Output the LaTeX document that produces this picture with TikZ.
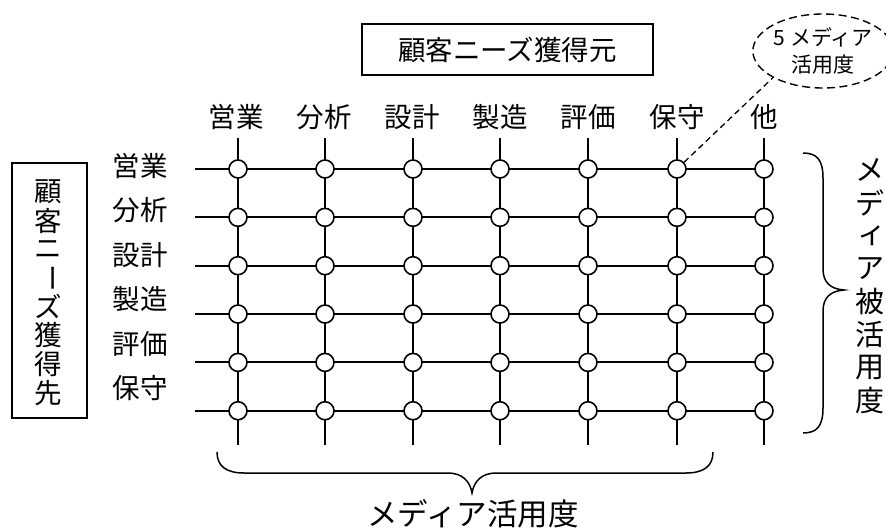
\documentclass[tikz,border=0pt]{standalone}
\usepackage{fontspec}
\newfontfamily\jp{Noto Sans CJK JP}
\usetikzlibrary{shapes.geometric}
\begin{document}
\begin{tikzpicture}[x=1pt,y=-1pt,
  gridline/.style={line width=1.9pt},
  dot/.style={circle, draw, line width=1.6pt, fill=white, minimum size=18pt, inner sep=0pt},
  lbl/.style={font=\jp\fontsize{27.5}{30}\selectfont, inner sep=0pt},
  thinlbl/.style={font=\jp\fontsize{29}{33}\selectfont, inner sep=0pt},
  boxed/.style={draw, line width=1.3pt},
  bracepath/.style={line width=1.5pt},
  callout/.style={ellipse, draw, dashed, dash pattern=on 8pt off 4.5pt, line width=1.4pt,
    minimum width=140pt, minimum height=74pt, inner sep=0pt, align=center,
    font=\jp\fontsize{21}{27}\selectfont}
]
\useasboundingbox (0,0) rectangle (886,530);

% grid lines
\foreach \j/\x in {1/238,2/325,3/413,4/500,5/588,6/677,7/764} {
  \coordinate (vt\j) at (\x,138);
  \coordinate (vb\j) at (\x,445);
  \draw[gridline] (vt\j) -- (vb\j);
}
\foreach \i in {1,...,6} {
  \coordinate (hl\i) at (195,{169+48.35*(\i-1)});
  \coordinate (hr\i) at (764,{169+48.35*(\i-1)});
  \draw[gridline] (hl\i) -- (hr\i);
}
% circles
\foreach \j/\x in {1/238,2/325,3/413,4/500,5/588,6/677,7/764} {
  \foreach \i in {1,...,6} {
    \node[dot] (d\i\j) at (\x,{169+48.35*(\i-1)}) {};
  }
}

% column labels
\foreach \j/\x/\t in {1/236/営業,2/324/分析,3/412/設計,4/500/製造,5/588/評価,6/677/保守,7/764/他} {
  \node[lbl] (col\j) at (\x,117) {\t};
}
% row labels
\foreach \i/\t in {1/営業,2/分析,3/設計,4/製造,5/評価,6/保守} {
  \node[lbl] (row\i) at (140,{166+44.4*(\i-1)}) {\t};
}

% top box
\node[boxed, lbl, minimum width=291pt, minimum height=51pt] (topbox) at (507.5,49.5) {顧客ニーズ獲得元};

% left box
\node[boxed, minimum width=75pt, minimum height=255pt] (leftbox) at (49.5,290.5) {};
\foreach \k/\t in {1/顧,2/客,3/ニ,5/ズ,6/獲,7/得,8/先} {
  \node[lbl] (lv\k) at (48,{192+28.7*(\k-1)}) {\t};
}
\node[lbl, rotate=-90] (lv4) at (48,{192+28.7*3}) {ー};

% right brace
\coordinate (rbt) at (803,153);
\coordinate (rbb) at (803,433);
\coordinate (rbtip) at (844,290);
\draw[bracepath] (rbt) .. controls (817,153) and (823,160) .. (823,178)
  -- (823,269) .. controls (823,282) and (830,289) .. (rbtip)
  .. controls (830,291) and (823,298) .. (823,311)
  -- (823,408) .. controls (823,426) and (817,433) .. (rbb);

% right vertical text
\foreach \k/\t in {1/メ,2/デ,4/ア,5/被,6/活,7/用,8/度} {
  \node[thinlbl] (rv\k) at (870,{170+33*(\k-1)}) {\t};
}
\node[thinlbl] (rv3) at (872,{170+33*2}) {ィ};

% bottom brace
\coordinate (bbl) at (217,452);
\coordinate (bbr) at (713,452);
\coordinate (bbtip) at (472,493);
\draw[bracepath] (bbl) .. controls (217,466) and (226,473) .. (244,473)
  -- (448,473) .. controls (462,473) and (470,481) .. (bbtip)
  .. controls (474,481) and (482,473) .. (496,473)
  -- (686,473) .. controls (704,473) and (713,466) .. (bbr);

% bottom text
\node[thinlbl, font=\jp\fontsize{30.5}{33}\selectfont] (bottomtext) at (473,514) {メディア活用度};

% callout
\node[callout] (ell) at (823,51) {5\hspace{5pt}メディア\\活用度};
\draw[dashed, dash pattern=on 6pt off 4pt, line width=1.3pt] (d16) -- (ell.south west);

\end{tikzpicture}
\end{document}
